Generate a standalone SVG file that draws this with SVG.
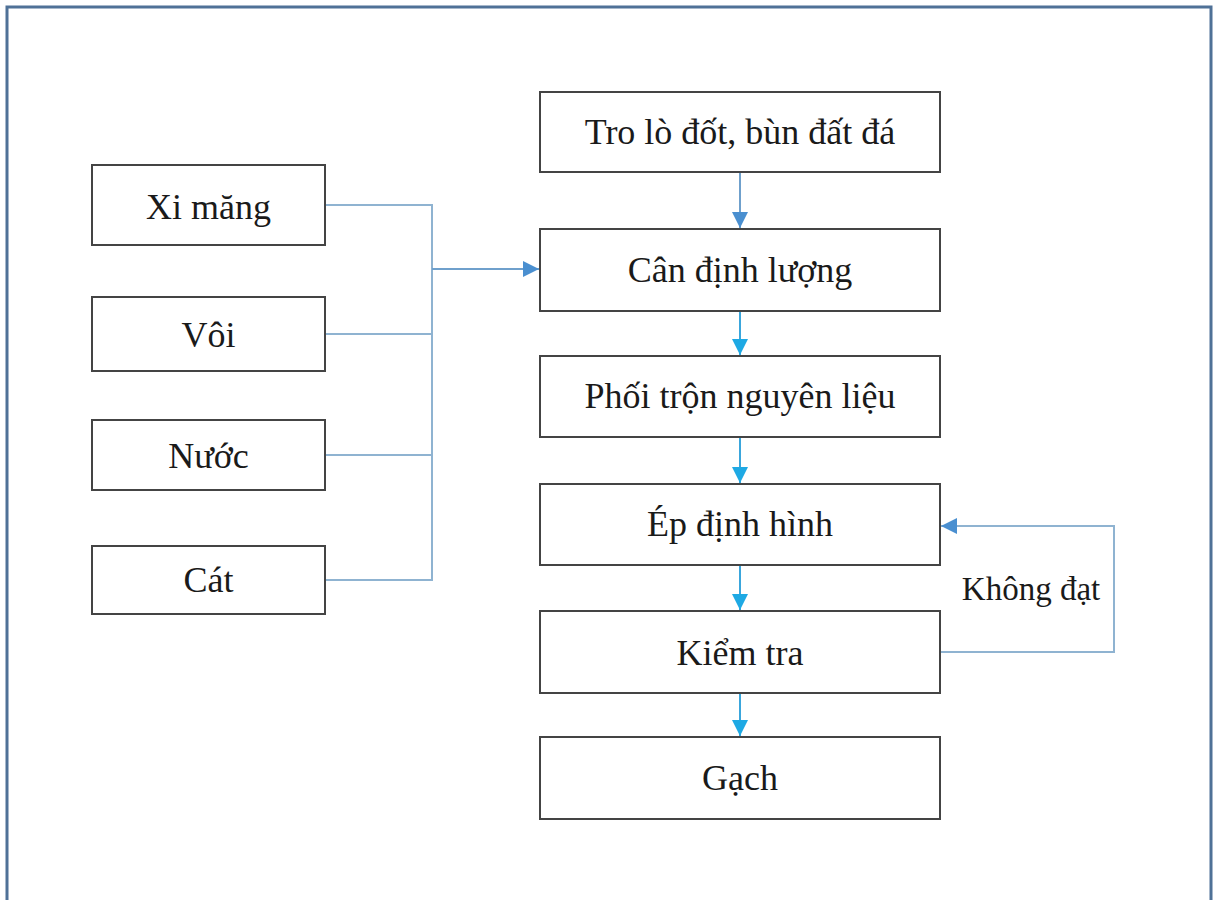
<svg xmlns="http://www.w3.org/2000/svg" width="1214" height="900" viewBox="0 0 1214 900">
  <style>
    .box { fill: #ffffff; stroke: #444444; stroke-width: 2; }
    .lbl { font-family: "Liberation Serif", "Times New Roman", serif; font-size: 36px; fill: #1a1a1a; text-anchor: middle; }
    .feed { fill: none; stroke: #8fb3d1; stroke-width: 2; }
    .main { fill: none; stroke: #6fa0cc; stroke-width: 2; }
    .flow { fill: none; stroke: #3aa6dc; stroke-width: 2; }
  </style>
  <defs>
    <marker id="headBlue" markerUnits="userSpaceOnUse" markerWidth="18" markerHeight="18" viewBox="0 0 18 18" refX="17" refY="9" orient="auto">
      <path d="M1,1 L17,9 L1,17 Z" fill="#4a8fd0"/>
    </marker>
    <marker id="headCyan" markerUnits="userSpaceOnUse" markerWidth="18" markerHeight="18" viewBox="0 0 18 18" refX="17" refY="9" orient="auto">
      <path d="M1,1 L17,9 L1,17 Z" fill="#1ea9e4"/>
    </marker>
  </defs>

  <!-- page frame -->
  <rect x="0" y="0" width="1214" height="900" fill="#ffffff"/>
  <path d="M7,906 L7,7 L1211,7 L1211,906" fill="none" stroke="#4f7197" stroke-width="3"/>

  <!-- connectors -->
  <g id="connectors">
    <!-- additives merge into the weighing step -->
    <polyline class="feed" points="325,205 432,205 432,580 325,580"/>
    <line class="feed" x1="325" y1="334" x2="432" y2="334"/>
    <line class="feed" x1="325" y1="455" x2="432" y2="455"/>
    <line class="main" x1="432" y1="269" x2="539" y2="269" marker-end="url(#headBlue)"/>
    <!-- main process chain -->
    <line class="main" x1="740" y1="172" x2="740" y2="228" marker-end="url(#headBlue)"/>
    <line class="flow" x1="740" y1="311" x2="740" y2="355" marker-end="url(#headCyan)"/>
    <line class="flow" x1="740" y1="437" x2="740" y2="483" marker-end="url(#headCyan)"/>
    <line class="flow" x1="740" y1="565" x2="740" y2="610" marker-end="url(#headCyan)"/>
    <line class="flow" x1="740" y1="693" x2="740" y2="736" marker-end="url(#headCyan)"/>
    <!-- reject loop back to pressing -->
    <polyline class="feed" points="940,652 1114,652 1114,526 941,526" marker-end="url(#headBlue)"/>
    <text x="1031" y="600" class="lbl" style="font-size:33px">Không đạt</text>
  </g>

  <!-- additive inputs -->
  <g id="xi-mang">
    <rect class="box" x="92" y="165" width="233" height="80"/>
    <text class="lbl" x="208.5" y="219">Xi măng</text>
  </g>
  <g id="voi">
    <rect class="box" x="92" y="297" width="233" height="74"/>
    <text class="lbl" x="208.5" y="347">Vôi</text>
  </g>
  <g id="nuoc">
    <rect class="box" x="92" y="420" width="233" height="70"/>
    <text class="lbl" x="208.5" y="468">Nước</text>
  </g>
  <g id="cat">
    <rect class="box" x="92" y="546" width="233" height="68"/>
    <text class="lbl" x="208.5" y="592">Cát</text>
  </g>

  <!-- process steps -->
  <g id="tro-lo-dot">
    <rect class="box" x="540" y="92" width="400" height="80"/>
    <text class="lbl" x="740" y="144">Tro lò đốt, bùn đất đá</text>
  </g>
  <g id="can-dinh-luong">
    <rect class="box" x="540" y="229" width="400" height="82"/>
    <text class="lbl" x="740" y="282">Cân định lượng</text>
  </g>
  <g id="phoi-tron">
    <rect class="box" x="540" y="356" width="400" height="81"/>
    <text class="lbl" x="740" y="408">Phối trộn nguyên liệu</text>
  </g>
  <g id="ep-dinh-hinh">
    <rect class="box" x="540" y="484" width="400" height="81"/>
    <text class="lbl" x="740" y="536">Ép định hình</text>
  </g>
  <g id="kiem-tra">
    <rect class="box" x="540" y="611" width="400" height="82"/>
    <text class="lbl" x="740" y="665">Kiểm tra</text>
  </g>
  <g id="gach">
    <rect class="box" x="540" y="737" width="400" height="82"/>
    <text class="lbl" x="740" y="790">Gạch</text>
  </g>
</svg>
